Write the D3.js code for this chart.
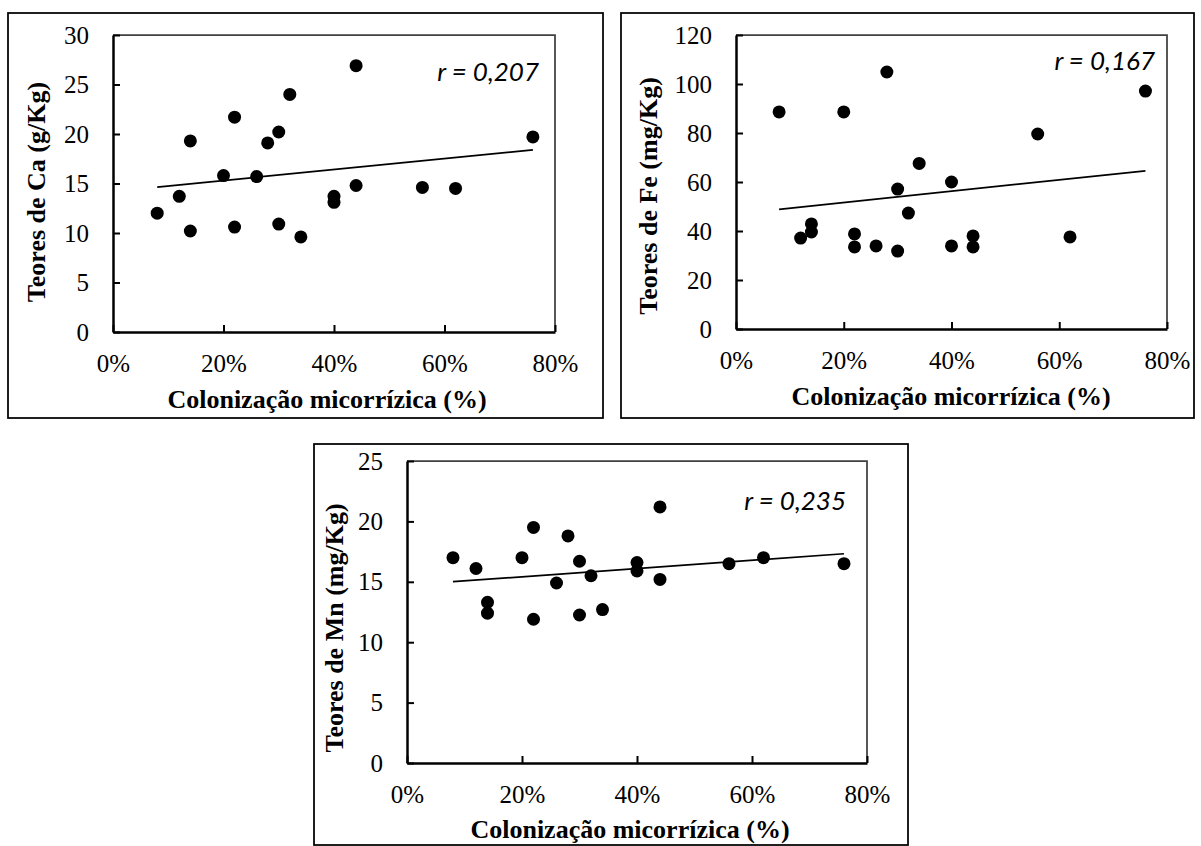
<!DOCTYPE html>
<html lang="pt">
<head>
<meta charset="UTF-8">
<script src="https://d3js.org/d3.v7.min.js"></script>
<title>Teores de Ca, Fe e Mn x colonização micorrízica</title>
<style>
  body { margin: 0; background: #fff; }
  svg { font-family: "Liberation Serif", "Times New Roman", serif; }
</style>
</head>
<body>
<div id="chart"></div>
<script>
// colonização micorrízica (fração), mesma ordem nos três gráficos
const colonizacao = [0.08, 0.12, 0.14, 0.14, 0.20, 0.22, 0.22, 0.26, 0.28, 0.30,
                     0.30, 0.32, 0.34, 0.40, 0.40, 0.44, 0.44, 0.56, 0.62, 0.76];
const teoresCa = [12.0, 13.7, 19.3, 10.2, 15.8, 21.7, 10.6, 15.7, 19.1, 20.2,
                  10.9, 24.0, 9.6, 13.7, 13.1, 26.9, 14.8, 14.6, 14.5, 19.7];
const teoresFe = [88.6, 37.1, 42.9, 39.6, 88.6, 38.8, 33.5, 33.9, 104.9, 57.1,
                  31.8, 47.3, 67.6, 60.0, 33.9, 38.0, 33.5, 79.6, 37.6, 97.1];
const teoresMn = [17.0, 16.1, 13.3, 12.4, 17.0, 19.5, 11.9, 14.9, 18.8, 16.7,
                  12.25, 15.5, 12.7, 16.6, 15.9, 21.2, 15.2, 16.5, 17.0, 16.5];

const xTicks = [0, 0.2, 0.4, 0.6, 0.8];
const caTicks = [0, 5, 10, 15, 20, 25, 30];
const feTicks = [0, 20, 40, 60, 80, 100, 120];
const mnTicks = [0, 5, 10, 15, 20, 25];

const yTitles = ["Teores de Ca (g/Kg)", "Teores de Fe (mg/Kg)", "Teores de Mn (mg/Kg)"];
const rLabels = ["r = 0,207", "r = 0,167", "r = 0,235"];
const xTitle = "Colonização micorrízica (%)";

// layout de cada quadro (pixels)
const panels = [
  { vals: teoresCa, ticks: caTicks, frame: [8, 13, 603, 418], plot: [113, 35, 555, 332],
    yt: [45, 192], rl: [539, 81], xt: [327, 408] },
  { vals: teoresFe, ticks: feTicks, frame: [621, 13, 1194, 418], plot: [736, 35, 1167, 329],
    yt: [657, 196], rl: [1155, 70], xt: [951, 405] },
  { vals: teoresMn, ticks: mnTicks, frame: [314, 444, 908, 845], plot: [407, 461, 867, 763],
    yt: [343, 628], rl: [846, 510], xt: [630, 838] }
];

const svg = d3.select("#chart").append("svg")
  .attr("width", 1201)
  .attr("height", 846);

panels.forEach((p, i) => {
  const [fx0, fy0, fx1, fy1] = p.frame;
  const [l, t, r, b] = p.plot;

  // moldura externa
  svg.append("rect")
    .attr("x", fx0).attr("y", fy0)
    .attr("width", fx1 - fx0).attr("height", fy1 - fy0)
    .attr("fill", "none").attr("stroke", "#000").attr("stroke-width", 1.75);

  const x = d3.scaleLinear().domain([0, 0.8]).range([l, r]);
  const y = d3.scaleLinear().domain([0, d3.max(p.ticks)]).range([b, t]);

  const g = svg.append("g");

  // bordas superior e direita da área de plotagem
  g.append("path")
    .attr("d", `M${l},${t}H${r}V${b}`)
    .attr("fill", "none").attr("stroke", "#404040").attr("stroke-width", 1.75);

  const xAxis = g.append("g")
    .attr("transform", `translate(0,${b})`)
    .call(d3.axisBottom(x).tickValues(xTicks).tickFormat(d3.format(".0%"))
      .tickSizeInner(-7).tickSizeOuter(0).tickPadding(22));

  const yAxis = g.append("g")
    .attr("transform", `translate(${l},0)`)
    .call(d3.axisLeft(y).tickValues(p.ticks)
      .tickSizeInner(-7).tickSizeOuter(0).tickPadding(24));

  [xAxis, yAxis].forEach(ax => {
    ax.attr("font-family", null).attr("font-size", null);
    ax.select(".domain").attr("stroke", "#000").attr("stroke-width", 2.5);
    ax.selectAll(".tick line").attr("stroke", "#000").attr("stroke-width", 2);
    ax.selectAll(".tick text").attr("fill", "#000").style("font-size", "25px");
  });

  // linha de tendência (mínimos quadrados)
  const pts = colonizacao.map((c, k) => ({ c: c, v: p.vals[k] }));
  const mx = d3.mean(pts, d => d.c), my = d3.mean(pts, d => d.v);
  const slope = d3.sum(pts, d => (d.c - mx) * (d.v - my)) / d3.sum(pts, d => (d.c - mx) ** 2);
  const ext = d3.extent(colonizacao);
  g.append("line")
    .attr("x1", x(ext[0])).attr("y1", y(my + slope * (ext[0] - mx)))
    .attr("x2", x(ext[1])).attr("y2", y(my + slope * (ext[1] - mx)))
    .attr("stroke", "#000").attr("stroke-width", 1.75);

  g.selectAll("circle")
    .data(pts)
    .enter().append("circle")
    .attr("cx", d => x(d.c))
    .attr("cy", d => y(d.v))
    .attr("r", 6.5)
    .attr("fill", "#000");

  g.append("text")
    .attr("x", p.rl[0]).attr("y", p.rl[1])
    .attr("text-anchor", "end")
    .style("font-family", "Lato, 'Open Sans', sans-serif")
    .style("font-style", "italic")
    .style("font-size", "26px")
    .text(rLabels[i]);

  g.append("text")
    .attr("transform", `translate(${p.yt[0]},${p.yt[1]}) rotate(-90)`)
    .attr("text-anchor", "middle")
    .style("font-weight", "bold")
    .style("font-size", "26px")
    .text(yTitles[i]);

  g.append("text")
    .attr("x", p.xt[0]).attr("y", p.xt[1])
    .attr("text-anchor", "middle")
    .style("font-weight", "bold")
    .style("font-size", "26px")
    .text(xTitle);
});
</script>
</body>
</html>
